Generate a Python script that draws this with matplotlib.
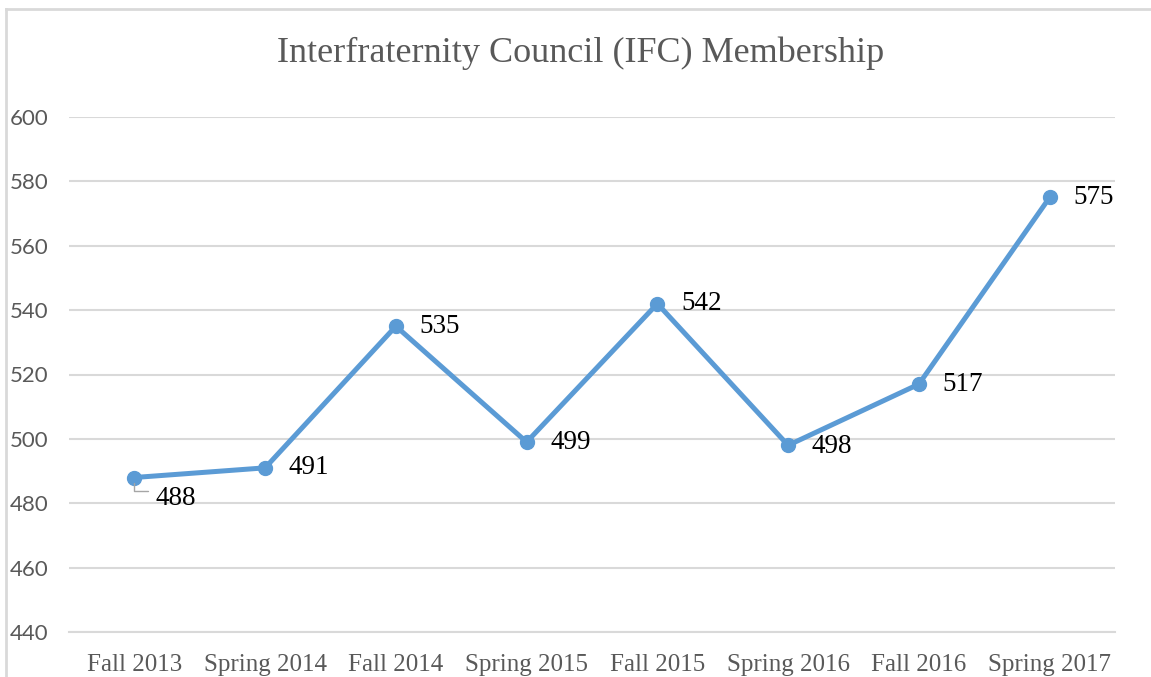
import matplotlib
matplotlib.use("Agg")
import matplotlib.pyplot as plt

categories = ["Fall 2013", "Spring 2014", "Fall 2014", "Spring 2015",
              "Fall 2015", "Spring 2016", "Fall 2016", "Spring 2017"]
members = [488, 491, 535, 499, 542, 498, 517, 575]
yticks = [440, 460, 480, 500, 520, 540, 560, 580, 600]
title = "Interfraternity Council (IFC) Membership"

serif = ["Liberation Serif", "DejaVu Serif"]
sans = ["Lato", "DejaVu Sans"]
grey = "#595959"
grid = "#d9d9d9"
blue = "#5b9bd5"

fig = plt.figure(figsize=(11.51, 6.77), dpi=100)
fig.patch.set_facecolor("white")
# chart border (top and left visible)
fig.add_artist(plt.Line2D([6/1151, 6/1151], [0, 1-9/677], color=grid, lw=2, transform=fig.transFigure))
fig.add_artist(plt.Line2D([6/1151, 1], [1-9/677, 1-9/677], color=grid, lw=2, transform=fig.transFigure))

ax = fig.add_axes([69/1151, 1-632/677, (1115-69)/1151, (632-117)/677])
x = list(range(len(categories)))
ax.plot(x, members, color=blue, lw=3.6, marker="o", markersize=10, solid_capstyle="round",
        solid_joinstyle="round", zorder=3)
ax.set_xlim(-0.5, len(categories)-0.5)
ax.set_ylim(yticks[0], yticks[-1])
ax.set_yticks(yticks)
ax.set_xticks(x)
ax.set_xticklabels(categories, family=serif, fontsize=18, color=grey)
ax.set_yticklabels([str(v) for v in yticks], family=sans, fontsize=16, color=grey)
ax.tick_params(axis="both", length=0)
ax.tick_params(axis="y", pad=15)
ax.tick_params(axis="x", pad=15.5)
ax.grid(axis="y", color=grid, lw=1.5)
ax.set_axisbelow(True)
for s in ["top", "right", "left"]:
    ax.spines[s].set_visible(False)
ax.spines["bottom"].set_color(grid)
ax.spines["bottom"].set_linewidth(1.5)

for i, v in enumerate(members):
    if i == 0:
        ax.annotate(str(v), xy=(i, v), xytext=(15, -15), textcoords="offset points",
                    ha="left", va="center", family=serif, fontsize=19.5, color="black")
        # leader line
        ax.annotate("", xy=(i, v), xytext=(10, -10), textcoords="offset points",
                    arrowprops=dict(arrowstyle="-", color="#a6a6a6", lw=1,
                                    connectionstyle="angle,angleA=0,angleB=90,rad=0",
                                    shrinkA=0, shrinkB=4))
    else:
        dy = -1 if v in (498,) else 0
        ax.annotate(str(v), xy=(i, v), xytext=(17, dy), textcoords="offset points",
                    ha="left", va="center", family=serif, fontsize=19.5, color="black")

fig.text(581/1151, 1-53/677, title, ha="center", va="center", family=serif,
         fontsize=26, color=grey)

fig.savefig("out.png", dpi=100, facecolor="white")
